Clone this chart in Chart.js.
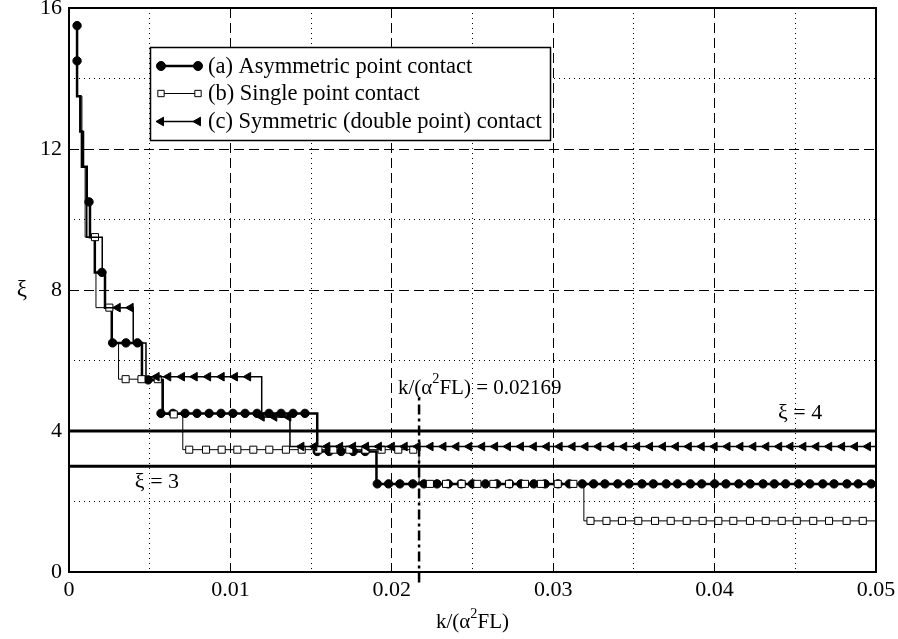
<!DOCTYPE html>
<html><head><meta charset="utf-8">
<script src="https://cdn.jsdelivr.net/npm/chart.js@4/dist/chart.umd.min.js"></script>
<style>html,body{margin:0;padding:0;background:#fff;}canvas{display:block;}</style>
</head><body>
<canvas id="c" width="898" height="639"></canvas>
<script>
// ---------- data ----------
const xTickLabels = ['0', '0.01', '0.02', '0.03', '0.04', '0.05'];
const yTickLabels = ['0', '4', '8', '12', '16'];
const seriesNames = ['(a) Asymmetric point contact', '(b) Single point contact', '(c) Symmetric (double point) contact'];

// step breakpoints (x where each level begins, level value)
const aStepX = [0.0005, 0.0005, 0.0005, 0.0007, 0.0008, 0.0011, 0.0013, 0.0016, 0.00223, 0.00265, 0.00452, 0.0058, 0.01538, 0.01905, 0.05];
const aStepY = [15.5, 14.5, 13.5, 12.5, 11.5, 10.5, 9.5, 8.5, 7.5, 6.5, 5.45, 4.5, 3.42, 2.5, 2.5];
const bStepX = [0.0007, 0.0008, 0.0009, 0.0010, 0.0010, 0.00163, 0.00167, 0.00265, 0.00307, 0.00584, 0.00705, 0.02169, 0.0319, 0.05];
const bStepY = [13.5, 12.5, 11.5, 10.5, 9.5, 8.5, 7.5, 6.5, 5.47, 4.47, 3.47, 2.5, 1.45, 1.45];
const cStepX = [0.0008, 0.0009, 0.0011, 0.00206, 0.00223, 0.00398, 0.00477, 0.01194, 0.01369, 0.05];
const cStepY = [12.5, 11.5, 9.5, 8.5, 7.5, 6.5, 5.54, 4.4, 3.56, 3.56];

// marker positions, grouped by level
const aMarkLevels = [15.5, 14.5, 10.5, 8.5, 6.5, 5.45, 4.5, 3.42, 2.5];
const aMarkX = [
  [0.0005],
  [0.0005],
  [0.00124],
  [0.00204],
  [0.0027, 0.00353, 0.00424],
  [0.0049],
  [0.0057, 0.00644, 0.00719, 0.00793, 0.00868, 0.00942, 0.01016, 0.01091, 0.01165, 0.01239, 0.01314, 0.01388, 0.01462],
  [0.01538, 0.01612, 0.01686, 0.01761, 0.01835],
  [0.0191, 0.0198, 0.0205, 0.0213, 0.0220, 0.0228, 0.0235, 0.0243, 0.0250, 0.0258, 0.0265, 0.0273, 0.0280, 0.0288,
   0.0295, 0.0303, 0.0310, 0.0318, 0.0325, 0.0332, 0.0340, 0.0347, 0.0355, 0.0362, 0.0370, 0.0377, 0.0385, 0.0392,
   0.0400, 0.0407, 0.0415, 0.0422, 0.0430, 0.0437, 0.0444, 0.0452, 0.0459, 0.0467, 0.0474, 0.0482, 0.0489, 0.0497]
];
const bMarkLevels = [9.5, 7.5, 5.47, 4.47, 3.47, 2.5, 1.45];
const bMarkX = [
  [0.00161],
  [0.0025],
  [0.00351, 0.00449, 0.0055],
  [0.00649],
  [0.00745, 0.00849, 0.00946, 0.01043, 0.01142, 0.01241, 0.01344, 0.01442, 0.01545, 0.01638, 0.01737, 0.01837, 0.01937, 0.0204, 0.02133],
  [0.02236, 0.02336, 0.02433, 0.0253, 0.02629, 0.02726, 0.02825, 0.02924, 0.03028, 0.03125],
  [0.03231, 0.0333, 0.03426, 0.03527, 0.03631, 0.03728, 0.03827, 0.03926, 0.04023, 0.04116, 0.04219, 0.04317,
   0.04416, 0.04509, 0.04611, 0.04709, 0.04818, 0.04918]
];
const cMarkLevels = [7.5, 5.54, 4.4, 3.56];
const cMarkX = [
  [0.00302, 0.00382],
  [0.00543, 0.00615, 0.0070, 0.00779, 0.00862, 0.00946, 0.01028, 0.0111],
  [0.01194, 0.01272, 0.01359],
  [0.0144, 0.0152, 0.0160, 0.0168, 0.0176, 0.0184, 0.0192, 0.0200, 0.0208, 0.0216, 0.0224, 0.0232, 0.0240, 0.0248,
   0.0256, 0.0264, 0.0272, 0.0280, 0.0288, 0.0296, 0.0304, 0.0312, 0.0320, 0.0328, 0.0336, 0.0344, 0.0352, 0.0360,
   0.0368, 0.0376, 0.0384, 0.0392, 0.0400, 0.0408, 0.0416, 0.0424, 0.0432, 0.0440, 0.0447, 0.0455, 0.0463, 0.0471,
   0.0479, 0.0487, 0.0495]
];

const refLevels = [4, 3];
const kCritical = 0.02169;
const critSpan = [-0.3, 5.0];

// ---------- build ----------
const FONT = '"Liberation Serif", "Times New Roman", serif';
function stepData(xs, ys) { return xs.map((x, i) => ({x: x, y: ys[i]})); }
function markData(levels, xsList) {
  const out = [];
  levels.forEach((lv, i) => xsList[i].forEach(x => out.push({x: x, y: lv})));
  return out;
}
const styles = [
  {lw: 2.5, pointStyle: 'circle', radius: 4.2, bg: '#000', rot: 0, legR: 4.5},
  {lw: 1, pointStyle: 'rect', radius: 5.0, bg: '#fff', rot: 0, legR: 4.5},
  {lw: 1.5, pointStyle: 'triangle', radius: 5.0, bg: '#000', rot: -90, legR: 5.0}
];
function lineDs(data, st, order) {
  return {data: data, showLine: true, stepped: 'before', borderColor: '#000', borderWidth: st.lw,
          pointRadius: 0, pointHoverRadius: 0, order: order};
}
function markDs(data, st, order) {
  return {data: data, showLine: false, pointStyle: st.pointStyle, pointRadius: st.radius, pointRotation: st.rot,
          pointBackgroundColor: st.bg, pointBorderColor: '#000', pointBorderWidth: 1, pointHoverRadius: st.radius, order: order};
}
const datasets = [];
refLevels.forEach(lv => datasets.push({data: [{x: 0, y: lv}, {x: 0.05, y: lv}], showLine: true, borderColor: '#000',
  borderWidth: 3, pointRadius: 0, order: 20}));
datasets.push({data: [{x: kCritical, y: critSpan[0]}, {x: kCritical, y: critSpan[1]}], showLine: true, borderColor: '#000',
  borderWidth: 2.5, borderDash: [10, 4, 3, 4], pointRadius: 0, clip: false, order: 19});
datasets.push(lineDs(stepData(aStepX, aStepY), styles[0], 12));
datasets.push(markDs(markData(aMarkLevels, aMarkX), styles[0], 11));
datasets.push(lineDs(stepData(bStepX, bStepY), styles[1], 8));
datasets.push(markDs(markData(bMarkLevels, bMarkX), styles[1], 7));
datasets.push(lineDs(stepData(cStepX, cStepY), styles[2], 4));
datasets.push(markDs(markData(cMarkLevels, cMarkX), styles[2], 3));

function isMultiple(v, step) { const r = v / step; return Math.abs(r - Math.round(r)) < 1e-6; }

function drawRich(ctx, parts, x, y, size, align) {
  const w = parts.map(p => { ctx.font = (p[1] ? size * 0.68 : size) + 'px ' + FONT; return ctx.measureText(p[0]).width; });
  const total = w.reduce((a, b) => a + b, 0);
  let cx = align === 'center' ? x - total / 2 : x;
  ctx.textAlign = 'left';
  ctx.textBaseline = 'alphabetic';
  parts.forEach((p, i) => {
    ctx.font = (p[1] ? size * 0.68 : size) + 'px ' + FONT;
    ctx.fillText(p[0], cx, p[1] ? y - size * 0.5 : y);
    cx += w[i];
  });
}

const decor = {
  id: 'decor',
  afterDraw(chart) {
    const ctx = chart.ctx, a = chart.chartArea, xs = chart.scales.x, ys = chart.scales.y;
    ctx.save();
    ctx.fillStyle = '#000';
    ctx.strokeStyle = '#000';
    // frame
    ctx.lineWidth = 2;
    ctx.setLineDash([]);
    ctx.strokeRect(a.left, a.top, a.right - a.left, a.bottom - a.top);
    // annotations
    ctx.font = '22px ' + FONT;
    ctx.textAlign = 'center'; ctx.textBaseline = 'middle';
    ctx.fillText('\u03be = 4', xs.getPixelForValue(0.0453), ys.getPixelForValue(4.51));
    ctx.fillText('\u03be = 3', xs.getPixelForValue(0.00545), ys.getPixelForValue(2.55));
    drawRich(ctx, [['k/(\u03b1', false], ['2', true], ['FL) = 0.02169', false]],
      xs.getPixelForValue(0.02038), ys.getPixelForValue(5.0) - 2, 21, 'left');
    // axis titles
    drawRich(ctx, [['k/(\u03b1', false], ['2', true], ['FL)', false]], (a.left + a.right) / 2, 628, 21, 'center');
    ctx.font = '23px ' + FONT;
    ctx.textAlign = 'center'; ctx.textBaseline = 'middle';
    ctx.fillText('\u03be', 22, (a.top + a.bottom) / 2);
    // legend
    const L = 150.5, T = 47.5, R = 550.5, B = 140.5;
    ctx.fillStyle = '#fff';
    ctx.fillRect(L, T, R - L, B - T);
    ctx.lineWidth = 1.5;
    ctx.strokeRect(L, T, R - L, B - T);
    const rows = [66, 93.5, 121.5];
    seriesNames.forEach((name, i) => {
      const st = styles[i], y = rows[i];
      ctx.strokeStyle = '#000';
      ctx.lineWidth = st.lw;
      ctx.beginPath(); ctx.moveTo(161, y); ctx.lineTo(198, y); ctx.stroke();
      [161, 198].forEach(px => {
        ctx.fillStyle = st.bg; ctx.strokeStyle = '#000'; ctx.lineWidth = 1;
        Chart.helpers.drawPoint(ctx, {pointStyle: st.pointStyle, radius: st.legR, rotation: st.rot, borderWidth: 1}, px, y);
      });
      ctx.fillStyle = '#000';
      ctx.font = '22.5px ' + FONT;
      ctx.textAlign = 'left'; ctx.textBaseline = 'middle';
      ctx.fillText(name, 208, y + 1);
    });
    ctx.restore();
  }
};

new Chart(document.getElementById('c'), {
  type: 'scatter',
  data: {datasets: datasets},
  plugins: [decor],
  options: {
    responsive: false,
    animation: false,
    events: [],
    layout: {padding: {top: 8, right: 22, left: 0, bottom: 0}},
    plugins: {legend: {display: false}, tooltip: {enabled: false}},
    scales: {
      x: {
        type: 'linear', min: 0, max: 0.05, position: 'bottom',
        ticks: {stepSize: 0.01, autoSkip: false, maxRotation: 0, padding: 5, color: '#000',
                font: {family: FONT, size: 22}, callback: (v, i) => xTickLabels[i]},
        grid: {drawTicks: false, lineWidth: 1,
               color: c => (c.tick && c.tick.value > 0.0001 && c.tick.value < 0.0499) ? '#000' : 'rgba(0,0,0,0)'},
        border: {display: false, dash: [10, 5]},
        afterFit: s => { s.height = 67; s.paddingLeft = 0; s.paddingRight = 0; }
      },
      x2: {
        type: 'linear', min: 0, max: 0.05, position: 'bottom',
        ticks: {display: false, stepSize: 0.005},
        grid: {drawTicks: false, lineWidth: 1,
               color: c => (c.tick && !isMultiple(c.tick.value, 0.01)) ? '#000' : 'rgba(0,0,0,0)'},
        border: {display: false, dash: [1, 4]},
        afterFit: s => { s.height = 0; s.paddingLeft = 0; s.paddingRight = 0; }
      },
      y: {
        type: 'linear', min: 0, max: 16, position: 'left',
        ticks: {stepSize: 4, padding: 7, color: '#000', font: {family: FONT, size: 22},
                callback: (v, i) => yTickLabels[i]},
        grid: {drawTicks: false, lineWidth: 1,
               color: c => (c.tick && c.tick.value > 0.01 && c.tick.value < 15.99) ? '#000' : 'rgba(0,0,0,0)'},
        border: {display: false, dash: [10, 5]},
        afterFit: s => { s.width = 69; s.paddingTop = 0; s.paddingBottom = 0; }
      },
      y2: {
        type: 'linear', min: 0, max: 16, position: 'left',
        ticks: {display: false, stepSize: 2},
        grid: {drawTicks: false, lineWidth: 1,
               color: c => (c.tick && !isMultiple(c.tick.value, 4)) ? '#000' : 'rgba(0,0,0,0)'},
        border: {display: false, dash: [1, 4]},
        afterFit: s => { s.width = 0; s.paddingTop = 0; s.paddingBottom = 0; }
      }
    }
  }
});
</script>
</body></html>
